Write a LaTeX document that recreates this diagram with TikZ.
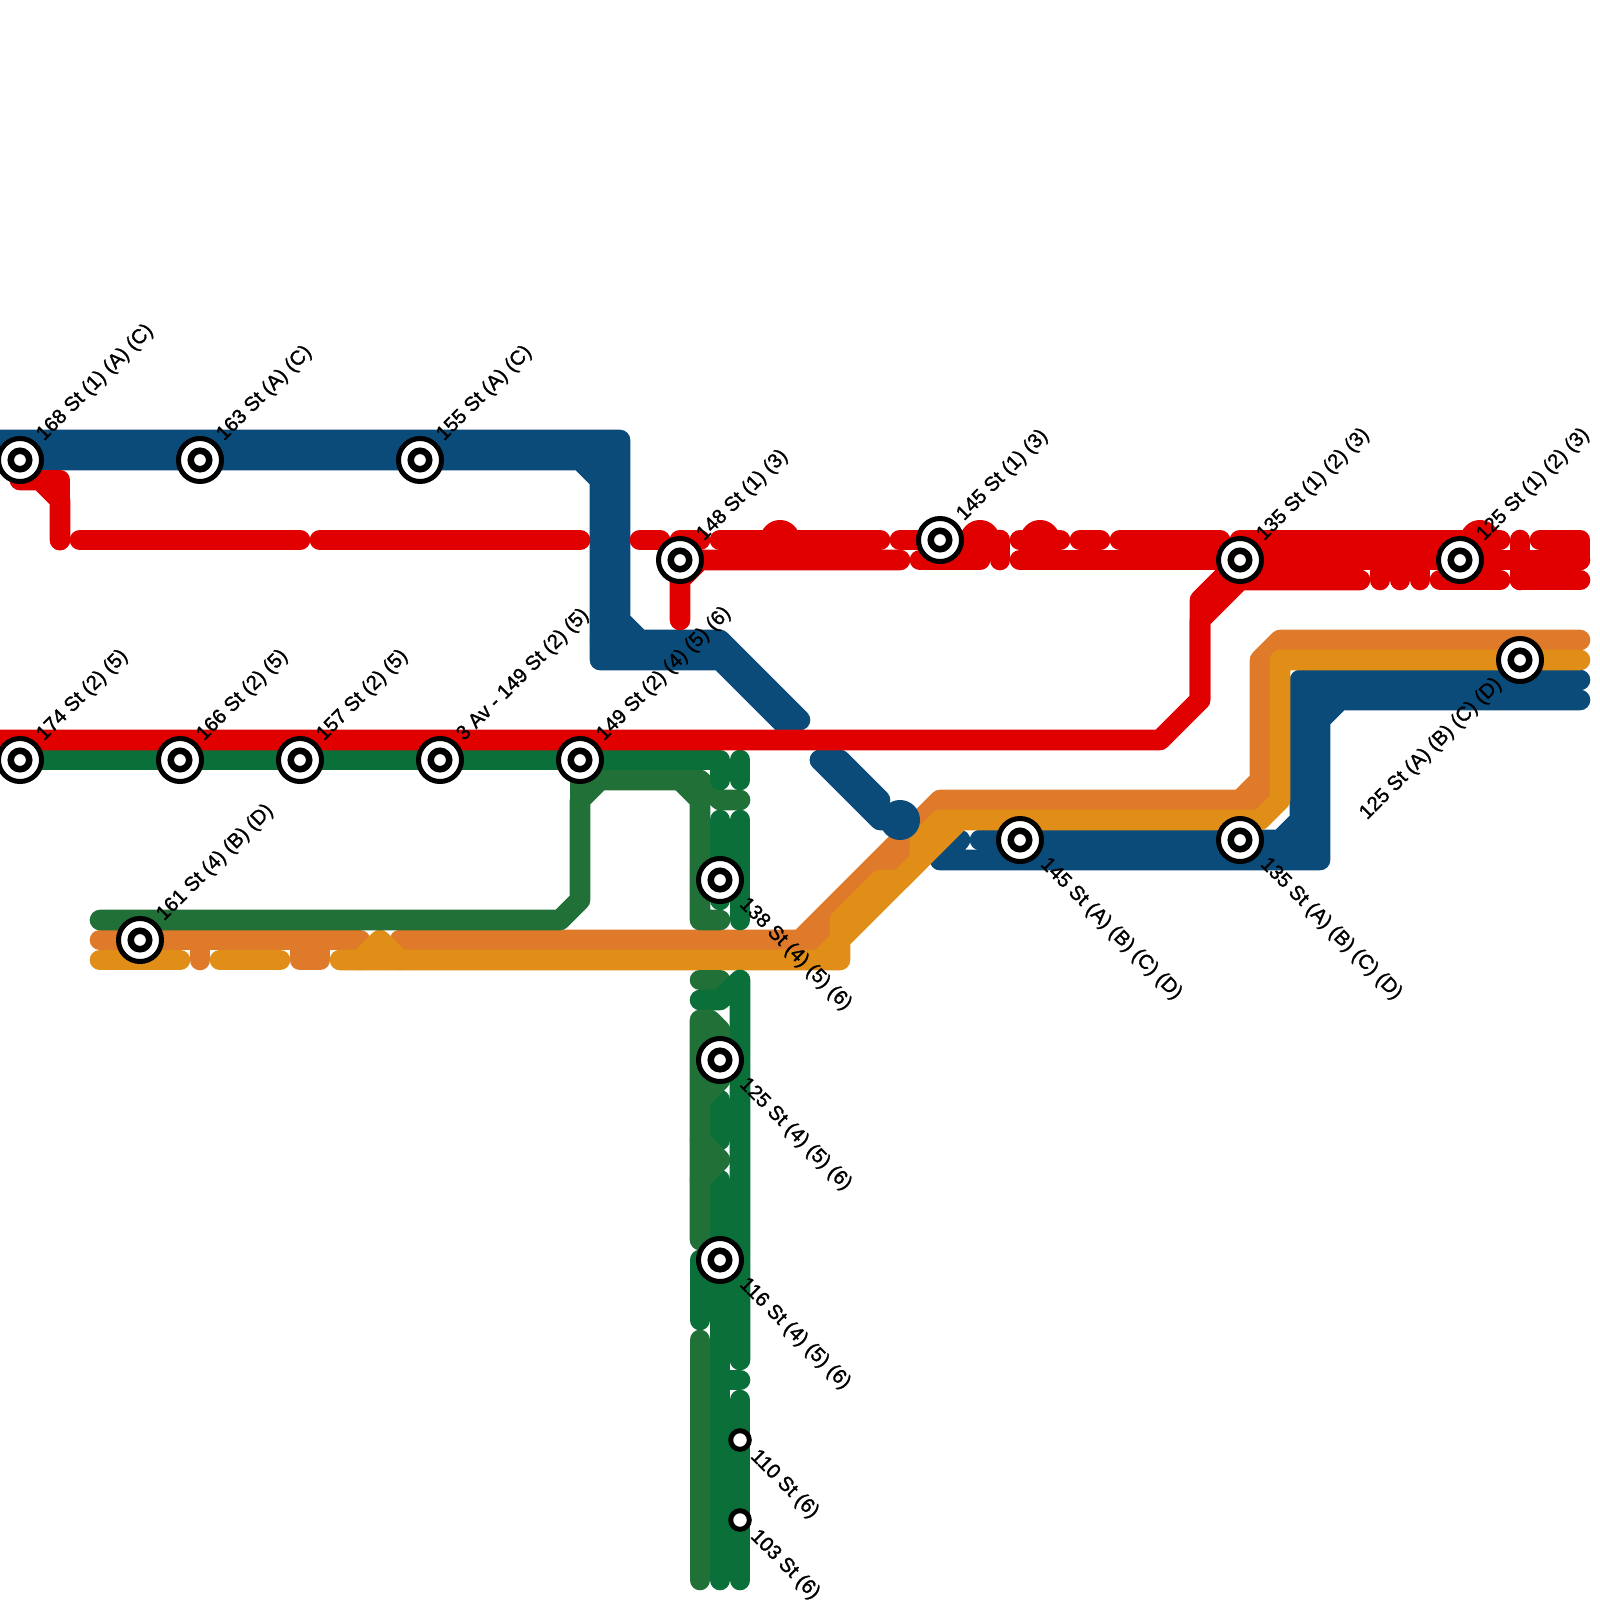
\documentclass[tikz,border=0pt]{standalone}
\usepackage{fontspec}
\usepackage{tikz}
\setmainfont{Liberation Sans}
\newfontfamily\stationfont[FakeBold=1.4]{Liberation Sans}
\definecolor{redline}{HTML}{E00000}
\definecolor{blueline}{HTML}{0A4B7A}
\definecolor{greenline}{HTML}{0A6F38}
\definecolor{darkline}{HTML}{217038}
\definecolor{orangeline}{HTML}{DF7A2A}
\definecolor{amberline}{HTML}{E08E18}
\begin{document}
\begin{tikzpicture}[
    x=0.01cm, y=-0.01cm,
    route/.style={line width=2.06mm, line cap=round, line join=round},
    hub/.style={circle, inner sep=0pt, minimum size=0.43cm, fill=white, draw=black, line width=1.42pt,
      path picture={\draw[black, line width=1.85pt] (path picture bounding box.center) circle (0.0925cm);}},
    stop/.style={circle, inner sep=0pt, minimum size=0.186cm, fill=white, draw=black, line width=1.4pt},
    blob/.style={circle, inner sep=0pt, minimum size=0.4cm},
    uplabel/.style={rotate=45, anchor=west, inner sep=0pt, font=\fontsize{5.75}{6}\stationfont},
    downlabel/.style={rotate=-45, anchor=west, inner sep=0pt, font=\fontsize{5.75}{6}\stationfont},
    backlabel/.style={rotate=45, anchor=east, inner sep=0pt, font=\fontsize{5.75}{6}\stationfont}
  ]
    \useasboundingbox (0,0) rectangle (1600,1600);

    % Station positions
    \coordinate (s168) at (20,460);
    \coordinate (s163) at (200,460);
    \coordinate (s155) at (420,460);
    \coordinate (s148) at (680,560);
    \coordinate (s145) at (940,540);
    \coordinate (s135) at (1240,560);
    \coordinate (s125) at (1460,560);
    \coordinate (s174) at (20,760);
    \coordinate (s166) at (180,760);
    \coordinate (s157) at (300,760);
    \coordinate (s3av) at (440,760);
    \coordinate (s149) at (580,760);
    \coordinate (s161) at (140,940);
    \coordinate (s138) at (720,880);
    \coordinate (s125e) at (720,1060);
    \coordinate (s116) at (720,1260);
    \coordinate (s110) at (740,1440);
    \coordinate (s103) at (740,1520);
    \coordinate (s145a) at (1020,840);
    \coordinate (s135a) at (1240,840);
    \coordinate (s125a) at (1520,660);

    % Blue
    \draw[route, blueline] (0,440) -- (620,440) -- (620,620) -- (640,640) -- (720,640) -- (800,720);
    \draw[route, blueline] (0,460) -- (580,460) -- (600,480) -- (600,660) -- (720,660) -- (790,730);
    \draw[route, blueline] (580,460) -- (610,460) -- (610,650);
    \draw[route, blueline] (600,640) -- (640,640);
    \draw[route, blueline] (820,760) -- (840,760) -- (880,800);
    \draw[route, blueline] (820,760) -- (880,820) -- (890,820);
    \draw[route, blueline] (1580,680) -- (1300,680) -- (1300,820) -- (1280,840) -- (980,840);
    \draw[route, blueline] (1580,700) -- (1340,700) -- (1320,720) -- (1320,860) -- (940,860) -- (960,840);
    \draw[route, blueline] (1300,700) -- (1340,700);
    \draw[route, blueline] (1310,700) -- (1310,840) -- (1280,840);

    % Dark orange
    \draw[route, orangeline] (1580,640) -- (1280,640) -- (1260,660) -- (1260,780) -- (1240,800) -- (940,800) -- (800,940) -- (400,940);
    \draw[route, orangeline] (1260,780) -- (1260,800) -- (1240,800);
    \draw[route, orangeline] (920,840) -- (820,940) -- (800,940);
    \draw[route, orangeline] (100,940) -- (360,940);
    \draw[route, orangeline] (200,940) -- (200,960);
    \draw[route, orangeline] (300,940) -- (300,960) -- (320,960) -- (320,940);

    % Amber
    \draw[route, amberline] (1580,660) -- (1280,660) -- (1280,800) -- (1260,820) -- (960,820) -- (840,940) -- (840,960) -- (340,960);
    \draw[route, amberline] (960,820) -- (940,820) -- (920,840) -- (920,860) -- (900,880) -- (880,880) -- (840,920) -- (840,940) -- (820,960);
    \draw[route, amberline] (100,960) -- (180,960);
    \draw[route, amberline] (220,960) -- (280,960);
    \draw[route, amberline] (360,960) -- (380,940) -- (400,960);
    \node[blob, fill=blueline] (junction) at (900,820) {};

    % Dark green
    \draw[route, darkline] (100,920) -- (560,920) -- (580,900) -- (580,800) -- (600,780) -- (700,780) -- (720,800) -- (740,800);
    \draw[route, darkline] (580,780) -- (600,780);
    \draw[route, darkline] (580,780) -- (580,800);
    \draw[route, darkline] (680,780) -- (700,800) -- (700,920) -- (720,920);
    \draw[route, darkline] (700,980) -- (720,980);

    % Green
    \draw[route, greenline] (0,760) -- (720,760) -- (720,780);
    \draw[route, greenline] (740,760) -- (740,780);
    \draw[route, greenline] (720,820) -- (720,900);
    \draw[route, greenline] (740,820) -- (740,920);
    \draw[route, greenline] (700,1000) -- (720,1000) -- (740,980) -- (740,1360);
    \draw[route, greenline] (720,1100) -- (720,1140);
    \draw[route, greenline] (720,1180) -- (720,1580);
    \draw[route, greenline] (700,1260) -- (700,1320);
    \draw[route, greenline] (720,1380) -- (740,1380);
    \draw[route, greenline] (740,1400) -- (740,1580);

    % Dark green, on top
    \draw[route, darkline] (700,1240) -- (700,1020) -- (710,1020) -- (720,1030) -- (720,1080) -- (700,1100);
    \draw[route, darkline] (700,1140) -- (720,1160) -- (700,1180);
    \draw[route, darkline] (700,1340) -- (700,1580);

    % Red
    \draw[route, redline] (0,740) -- (1160,740) -- (1200,700) -- (1200,600) -- (s135);
    \draw[route, redline] (1200,700) -- (1200,620) -- (1240,580) -- (1360,580);
    \draw[route, redline] (20,480) -- (60,480) -- (60,540);
    \draw[route, redline] (20,480) -- (40,480) -- (60,500) -- (60,540);
    \draw[route, redline] (80,540) -- (300,540);
    \draw[route, redline] (320,540) -- (580,540);
    \draw[route, redline] (640,540) -- (660,540);
    \draw[route, redline] (680,540) -- (700,540);
    \draw[route, redline] (720,540) -- (880,540);
    \draw[route, redline] (900,540) -- (980,540);
    \draw[route, redline] (1000,540) -- (1000,560);
    \draw[route, redline] (1020,540) -- (1060,540);
    \draw[route, redline] (1080,540) -- (1100,540);
    \draw[route, redline] (1120,540) -- (1220,540);
    \draw[route, redline] (1240,540) -- (1500,540);
    \draw[route, redline] (1520,540) -- (1520,580);
    \draw[route, redline] (1540,540) -- (1580,540) -- (1580,560);
    \draw[route, redline] (900,560) -- (700,560) -- (680,580) -- (680,620);
    \draw[route, redline] (920,560) -- (980,560);
    \draw[route, redline] (1020,560) -- (1580,560);
    \draw[route, redline] (1380,560) -- (1380,580);
    \draw[route, redline] (1400,560) -- (1400,580);
    \draw[route, redline] (1420,560) -- (1420,580);
    \draw[route, redline] (1440,580) -- (1500,580);
    \draw[route, redline] (1520,580) -- (1580,580);
    \node[blob, fill=redline] (bump1) at (780,540) {};
    \node[blob, fill=redline] (bump2) at (980,540) {};
    \node[blob, fill=redline] (bump3) at (1040,540) {};
    \node[blob, fill=redline] (bump4) at (1480,540) {};

    % Stations
    \node[hub] (h168) at (s168) {};
    \node[hub] (h163) at (s163) {};
    \node[hub] (h155) at (s155) {};
    \node[hub] (h148) at (s148) {};
    \node[hub] (h145) at (s145) {};
    \node[hub] (h135) at (s135) {};
    \node[hub] (h125) at (s125) {};
    \node[hub] (h174) at (s174) {};
    \node[hub] (h166) at (s166) {};
    \node[hub] (h157) at (s157) {};
    \node[hub] (h3av) at (s3av) {};
    \node[hub] (h149) at (s149) {};
    \node[hub] (h161) at (s161) {};
    \node[hub] (h138) at (s138) {};
    \node[hub] (h125e) at (s125e) {};
    \node[hub] (h116) at (s116) {};
    \node[hub] (h145a) at (s145a) {};
    \node[hub] (h135a) at (s135a) {};
    \node[hub] (h125a) at (s125a) {};
    \node[stop] (h110) at (s110) {};
    \node[stop] (h103) at (s103) {};

    % Labels
    \node[uplabel] (l168) at (40,438) {168 St (1) (A) (C)};
    \node[uplabel] (l163) at (220,438) {163 St (A) (C)};
    \node[uplabel] (l155) at (440,438) {155 St (A) (C)};
    \node[uplabel] (l148) at (700,538) {148 St (1) (3)};
    \node[uplabel] (l145) at (960,518) {145 St (1) (3)};
    \node[uplabel] (l135) at (1260,538) {135 St (1) (2) (3)};
    \node[uplabel] (l125) at (1480,538) {125 St (1) (2) (3)};
    \node[uplabel] (l174) at (40,738) {174 St (2) (5)};
    \node[uplabel] (l166) at (200,738) {166 St (2) (5)};
    \node[uplabel] (l157) at (320,738) {157 St (2) (5)};
    \node[uplabel] (l3av) at (460,738) {3 Av - 149 St (2) (5)};
    \node[uplabel] (l149) at (600,738) {149 St (2) (4) (5) (6)};
    \node[uplabel] (l161) at (160,918) {161 St (4) (B) (D)};
    \node[downlabel] (l138) at (742,901) {138 St (4) (5) (6)};
    \node[downlabel] (l125e) at (742,1081) {125 St (4) (5) (6)};
    \node[downlabel] (l116) at (742,1281) {116 St (4) (5) (6)};
    \node[downlabel] (l110) at (753,1453) {110 St (6)};
    \node[downlabel] (l103) at (753,1533) {103 St (6)};
    \node[downlabel] (l145a) at (1043,861) {145 St (A) (B) (C) (D)};
    \node[downlabel] (l135a) at (1263,861) {135 St (A) (B) (C) (D)};
    \node[backlabel] (l125a) at (1499,681) {125 St (A) (B) (C) (D)};
  \end{tikzpicture}
\end{document}
